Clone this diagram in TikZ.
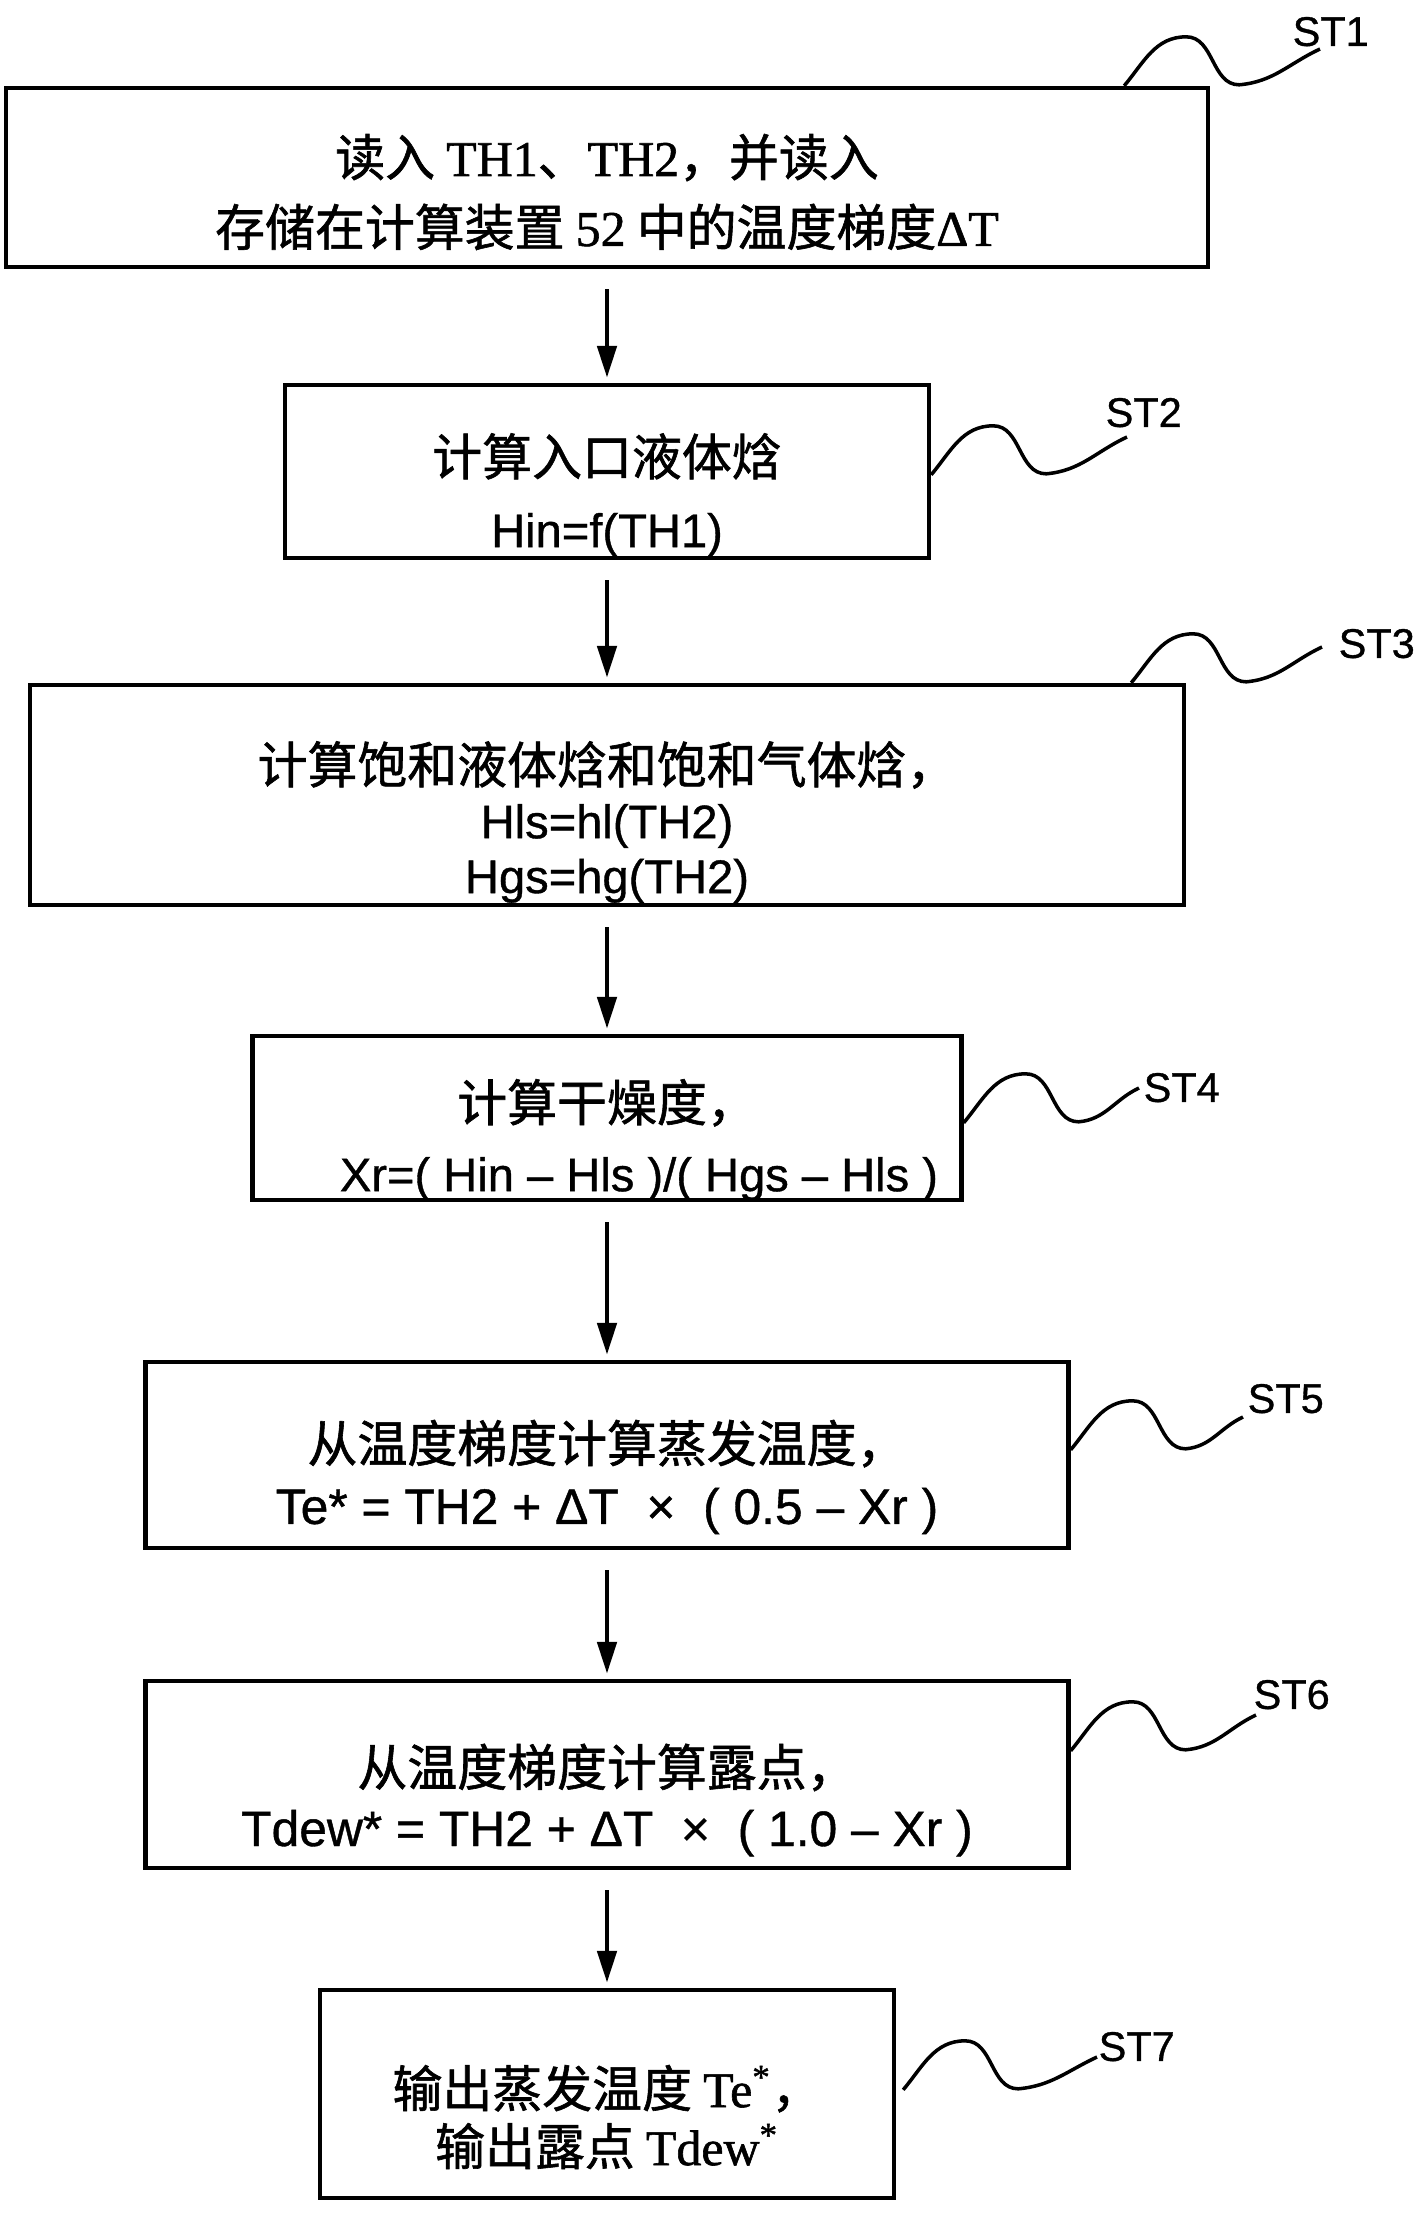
\documentclass[tikz,border=0pt]{standalone}
\usepackage{fontspec}
\setmainfont{Noto Sans CJK SC}[FakeBold=1.2]
\newfontfamily\ser{Liberation Serif}[FakeBold=1.2]
\newfontfamily\frm{Liberation Sans}[Scale=0.944,FakeBold=0.8]
\usetikzlibrary{arrows.meta,calc}

\begin{document}
\begin{tikzpicture}
[box/.style={draw,line width=1.25pt,inner sep=0pt},
 txt/.style={align=center,inner sep=0pt,font=\fontsize{14.2pt}{#1}\selectfont},
 lab/.style={anchor=south west,inner sep=0pt,font=\frm\fontsize{12.5pt}{14pt}\selectfont},
 wig/.style={line width=1pt},
 arr/.style={line width=1.4pt,-{Triangle[length=0.32cm,width=0.19cm]},shorten <=0.2cm,shorten >=0.05cm}]
\useasboundingbox (0,0) rectangle (14.22,-22.13);

% steps
\node[box,minimum width=12.02cm,minimum height=1.79cm] (st1) at (6.07,-1.775) {};
\node[box,minimum width=6.44cm,minimum height=1.73cm] (st2) at (6.07,-4.715) {};
\node[box,minimum width=11.54cm,minimum height=2.20cm] (st3) at (6.07,-7.95) {};
\node[box,minimum width=7.09cm,minimum height=1.64cm] (st4) at (6.07,-11.18) {};
\node[box,minimum width=9.23cm,minimum height=1.86cm] (st5) at (6.07,-14.55) {};
\node[box,minimum width=9.23cm,minimum height=1.87cm] (st6) at (6.07,-17.745) {};
\node[box,minimum width=5.74cm,minimum height=2.08cm] (st7) at (6.07,-20.94) {};

\node[txt=19.9pt] (t1) at (6.07,-1.92) {读入 {\ser TH1}、{\ser TH2}，并读入\\存储在计算装置 {\ser 52} 中的温度梯度{\ser ΔT}};
\node[txt=20.4pt] (t2) at (6.07,-4.95) {计算入口液体焓\\{\frm Hin=f(TH1)}};
\node[txt=15.6pt] (t3) at (6.07,-8.22) {计算饱和液体焓和饱和气体焓，\\{\frm Hls=hl(TH2)}\\{\frm Hgs=hg(TH2)}};
\node[txt=19.9pt] (t4) at (6.07,-11.40) {计算干燥度，\\\hspace*{0.64cm}{\frm Xr=( Hin – Hls )/( Hgs – Hls )}};
\node[txt=17.6pt] (t5) at (6.07,-14.77) {从温度梯度计算蒸发温度，\\{\frm\fontsize{15pt}{17.6pt}\selectfont Te* = TH2 + ΔT \ × \ ( 0.5 – Xr )}};
\node[txt=17.1pt] (t6) at (6.07,-18.00) {从温度梯度计算露点，\\{\frm\fontsize{15pt}{17.1pt}\selectfont Tdew* = TH2 + ΔT \ × \ ( 1.0 – Xr )}};
\node[txt=16.5pt] (t7) at (6.07,-21.17) {输出蒸发温度 {\ser Te\textsuperscript{*}}，\\输出露点 {\ser Tdew\textsuperscript{*}}};

% step labels
\node[lab] (l1) at (12.92,-0.47) {ST1};
\node[lab] (l2) at (11.05,-4.28) {ST2};
\node[lab] (l3) at (13.38,-6.59) {ST3};
\node[lab] (l4) at (11.43,-11.03) {ST4};
\node[lab] (l5) at (12.47,-14.14) {ST5};
\node[lab] (l6) at (12.53,-17.10) {ST6};
\node[lab] (l7) at (10.98,-20.62) {ST7};

\coordinate (w1) at ($(st1.north east)+(-0.86,0)$);
\coordinate (w2) at ($(st2.north east)+(0,-0.92)$);
\coordinate (w3) at ($(st3.north east)+(-0.55,0)$);
\coordinate (w4) at ($(st4.north east)+(0,-0.89)$);
\coordinate (w5) at ($(st5.north east)+(0,-0.90)$);
\coordinate (w6) at ($(st6.north east)+(0,-0.72)$);
\coordinate (w7) at ($(st7.north east)+(0.07,-1.02)$);

\draw[wig] (w1) to[out=50,in=180] ++(0.62,0.49) to[out=0,in=180] ++(0.53,-0.48) to[out=5,in=205] ([shift={(0.28,-0.02)}]l1.south west);
\draw[wig] (w2) to[out=50,in=180] ++(0.62,0.49) to[out=0,in=180] ++(0.53,-0.48) to[out=5,in=205] ([shift={(0.22,-0.09)}]l2.south west);
\draw[wig] (w3) to[out=50,in=180] ++(0.62,0.49) to[out=0,in=180] ++(0.53,-0.48) to[out=5,in=205] ([shift={(-0.16,0.12)}]l3.south west);
\draw[wig] (w4) to[out=50,in=180] ++(0.62,0.49) to[out=0,in=180] ++(0.53,-0.48) to[out=5,in=205] ([shift={(-0.04,0.15)}]l4.south west);
\draw[wig] (w5) to[out=50,in=180] ++(0.62,0.49) to[out=0,in=180] ++(0.53,-0.48) to[out=5,in=205] ([shift={(-0.04,-0.03)}]l5.south west);
\draw[wig] (w6) to[out=50,in=180] ++(0.62,0.49) to[out=0,in=180] ++(0.53,-0.48) to[out=5,in=205] ([shift={(0.03,-0.05)}]l6.south west);
\draw[wig] (w7) to[out=50,in=180] ++(0.62,0.49) to[out=0,in=180] ++(0.53,-0.48) to[out=5,in=205] ([shift={(-0.01,0.05)}]l7.south west);

% flow
\draw[arr] (st1) -- (st2);
\draw[arr] (st2) -- (st3);
\draw[arr] (st3) -- (st4);
\draw[arr] (st4) -- (st5);
\draw[arr] (st5) -- (st6);
\draw[arr] (st6) -- (st7);
\end{tikzpicture}
\end{document}
